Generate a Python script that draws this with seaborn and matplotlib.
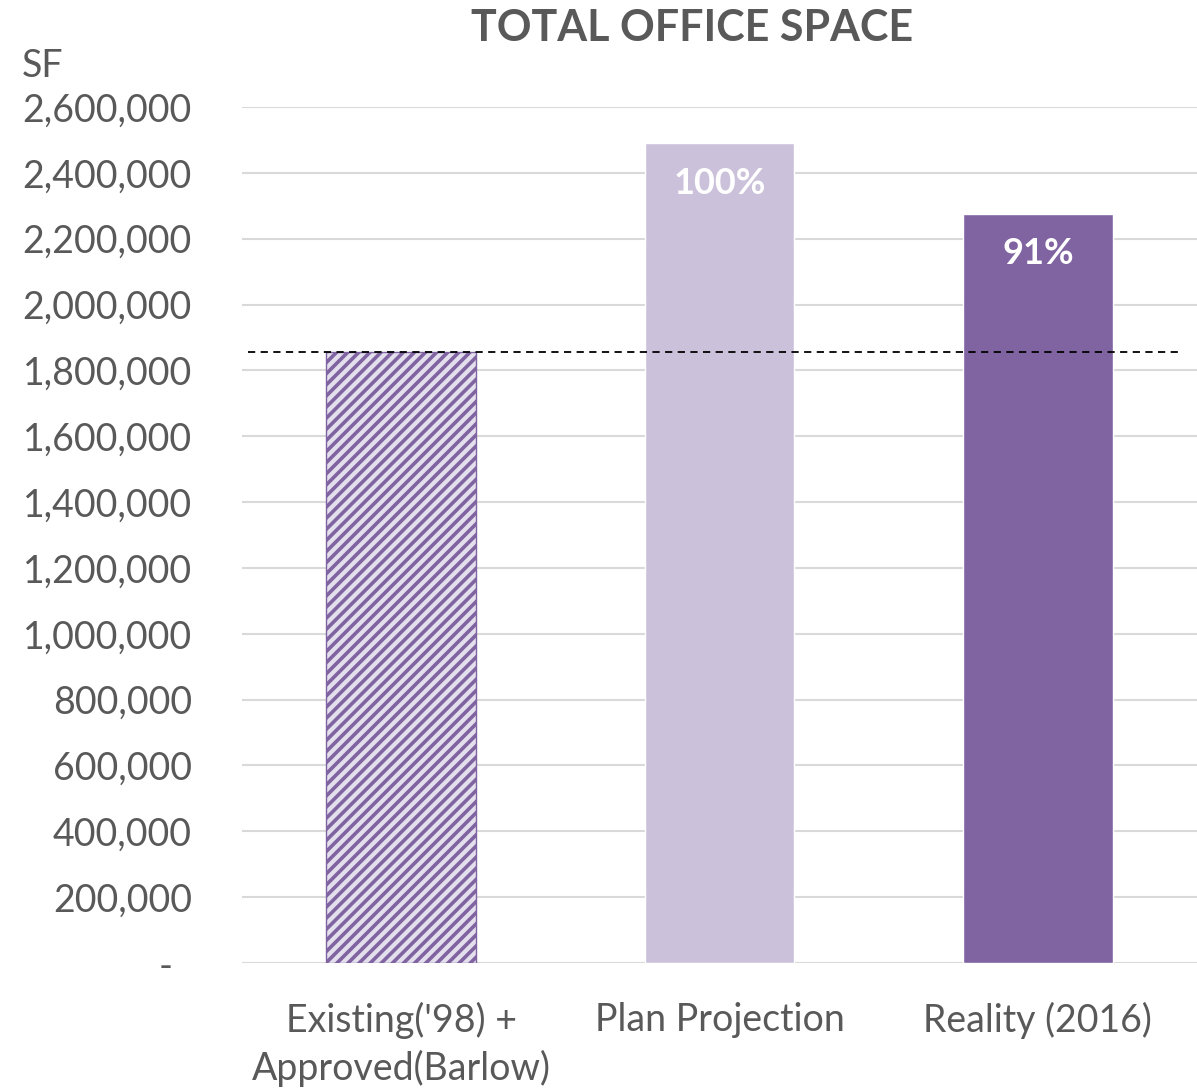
import pandas as pd
import matplotlib.pyplot as plt
import matplotlib.ticker as mticker
import seaborn as sns

# data
categories = ["Existing('98) +\nApproved(Barlow)", 'Plan Projection', 'Reality (2016)']
office_sf = [1856000, 2490000, 2275000]
pct_labels = ['', '100%', '91%']
bar_colors = ['#e4dfec', '#ccc1da', '#8064a2']

df = pd.DataFrame({'cat': categories, 'sf': office_sf})

sns.set_theme(style='white')
plt.rcParams['font.family'] = ['Lato', 'DejaVu Sans']
plt.rcParams['hatch.linewidth'] = 2.6

grey = '#595959'
fig = plt.figure(figsize=(11.97, 10.90), dpi=100)
ax = fig.add_axes([242/1197, 1-963/1090, 955/1197, 856/1090])

sns.barplot(data=df, x='cat', y='sf', hue='cat', palette=bar_colors,
            width=0.47, legend=False, ax=ax, saturation=1)

# first bar: hatched
p0 = ax.patches[0]
p0.set_hatch('///')
p0.set_edgecolor('#8064a2')
p0.set_linewidth(1.0)

ax.set_xlim(-0.5, 2.5)
ax.set_ylim(0, 2600000)
ax.yaxis.set_major_locator(mticker.MultipleLocator(200000))
ax.yaxis.set_major_formatter(mticker.FuncFormatter(lambda v, p: '-  ' if v == 0 else f'{v:,.0f}'))
ax.grid(axis='y', color='#d9d9d9', linewidth=1.5)
ax.set_axisbelow(True)
sns.despine(ax=ax, left=True, bottom=True, top=True, right=True)
ax.tick_params(axis='y', length=0, pad=36, labelsize=27, labelcolor=grey)
ax.tick_params(axis='x', length=0, pad=28, labelsize=27, labelcolor=grey)
for t in ax.get_xticklabels():
    t.set_linespacing(1.35)
ax.set_xlabel('')
ax.set_ylabel('')

# dashed reference at existing + approved
ax.axhline(office_sf[0], xmin=0.006, xmax=0.985, color='black', linestyle=(0, (4, 3)), linewidth=1.3, zorder=5)

for i, lab in enumerate(pct_labels):
    if lab:
        ax.annotate(lab, (i, office_sf[i]), xytext=(0, -40), textcoords='offset pixels',
                    ha='center', va='center', color='white', fontsize=26, fontweight='bold')

fig.text(692/1197, 1-28/1090, 'TOTAL OFFICE SPACE', ha='center', va='center',
         fontsize=31, fontweight='bold', color=grey)
fig.text(22/1197, 1-66/1090, 'SF', ha='left', va='center', fontsize=27, color=grey)

fig.savefig('out.png', dpi=100)
